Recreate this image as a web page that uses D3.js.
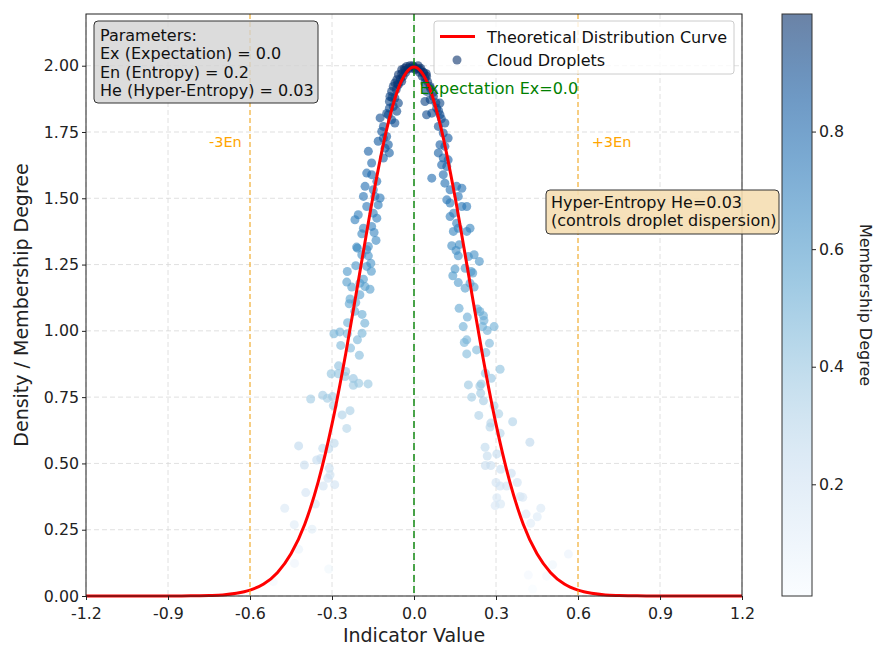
<!DOCTYPE html>
<html>
<head>
<meta charset="utf-8">
<script src="https://d3js.org/d3.v7.min.js"></script>
<style>
  body { margin: 0; background: #fff; }
  svg text { font-family: "DejaVu Sans", sans-serif; }
</style>
</head>
<body>
<div id="chart"></div>
<script>
// cloud model parameters
var Ex = 0.0, En = 0.2, He = 0.03;

var xTicks = [-1.2, -0.9, -0.6, -0.3, 0.0, 0.3, 0.6, 0.9, 1.2];
var yTicks = [0, 0.25, 0.5, 0.75, 1.0, 1.25, 1.5, 1.75, 2.0];
var cbarTicks = [0.2, 0.4, 0.6, 0.8];

// theoretical curve
var curveX = [-1.2,-1.15,-1.1,-1.05,-1.0,-0.95,-0.9,-0.85,-0.8,-0.75,-0.7,-0.65,-0.6,-0.55,-0.5,-0.45,-0.4,-0.35,-0.3,-0.25,-0.2,-0.15,-0.1,-0.05,
  0,0.05,0.1,0.15,0.2,0.25,0.3,0.35,0.4,0.45,0.5,0.55,0.6,0.65,0.7,0.75,0.8,0.85,0.9,0.95,1.0,1.05,1.1,1.15,1.2];
var curveY = [0,0,0,0,0,0,0,0,0.001,0.002,0.004,0.010,0.022,0.045,0.088,0.159,0.270,0.432,0.648,0.913,1.210,1.506,1.760,1.933,
  1.995,1.933,1.760,1.506,1.210,0.913,0.648,0.432,0.270,0.159,0.088,0.045,0.022,0.010,0.004,0.002,0.001,0,0,0,0,0,0,0,0];

// cloud droplets (x, y)
var dropX = [
  -0.191,-0.146,-0.139,-0.210,-0.207,-0.167,-0.173,-0.191,-0.167,-0.158,-0.213,-0.173,-0.244,-0.156,-0.185,-0.246,-0.198,-0.228,-0.179,-0.161,
  -0.198,-0.234,-0.237,-0.213,-0.217,-0.190,-0.243,-0.180,-0.293,-0.271,-0.244,-0.190,-0.207,-0.268,-0.232,-0.200,-0.276,-0.303,-0.277,-0.250,
  -0.252,-0.222,-0.222,-0.202,-0.168,-0.378,-0.334,-0.317,-0.298,-0.295,-0.263,-0.234,-0.246,-0.422,-0.334,-0.312,-0.292,-0.401,-0.356,-0.341,
  -0.310,-0.315,-0.307,-0.332,-0.290,-0.396,-0.361,-0.473,-0.438,-0.373,-0.422,-0.437,-0.312,-0.515,
  0.144,0.193,0.138,0.166,0.154,0.162,0.199,0.220,0.239,0.187,0.150,0.209,0.215,0.142,0.162,0.205,0.187,0.220,0.165,0.232,
  0.241,0.254,0.195,0.256,0.180,0.251,0.268,0.293,0.193,0.184,0.229,0.276,0.193,0.263,0.315,0.261,0.283,0.199,0.246,0.241,
  0.211,0.244,0.254,0.293,0.237,0.310,0.281,0.278,0.361,0.315,0.424,0.260,0.303,0.268,0.261,0.281,0.317,0.356,0.300,0.378,
  0.315,0.339,0.388,0.398,0.303,0.297,0.317,0.410,0.451,0.427,0.464,0.565,0.507,0.418,0.485,0.434,
  -0.045,-0.027,-0.015,-0.033,-0.057,-0.063,-0.070,-0.076,-0.057,-0.045,-0.082,-0.088,-0.070,-0.090,-0.057,-0.076,-0.063,-0.094,-0.082,-0.124,
  -0.112,-0.118,-0.070,-0.112,-0.100,-0.131,-0.094,-0.106,-0.090,-0.167,-0.112,-0.155,-0.173,-0.155,-0.179,-0.136,-0.149,-0.185,-0.143,-0.124,
  -0.173,-0.131,-0.204,-0.216,-0.149,-0.136,-0.185,-0.155,
  0.022,0.034,0.046,0.040,0.059,0.046,0.071,0.059,0.040,0.095,0.083,0.046,0.065,0.095,0.113,0.089,0.107,0.125,0.095,0.113,
  0.089,0.107,0.125,0.101,0.120,0.065,0.107,0.113,0.156,0.132,0.175,0.162,0.120,0.132,0.175,0.193,0.145,0.132,0.205,0.156,0.162,
  -0.05,-0.04,-0.03,-0.02,-0.01,0.0,0.01,0.02,0.03,0.04,0.05,-0.06,0.06,-0.035,0.015,-0.005,0.005,-0.045,0.025,0.035,
  0.045,-0.065,-0.08,0.07,0.08,-0.1,0.1,-0.09,0.09
];
var dropY = [
  1.366,1.371,1.341,1.316,1.312,1.318,1.306,1.287,1.283,1.255,1.246,1.243,1.224,1.225,1.195,1.184,1.180,1.165,1.167,1.157,
  1.136,1.120,1.102,1.107,1.074,1.062,1.031,1.029,0.989,0.996,0.989,0.991,0.966,0.945,0.935,0.908,0.868,0.838,0.838,0.847,
  0.828,0.820,0.795,0.802,0.800,0.743,0.757,0.746,0.752,0.718,0.683,0.699,0.632,0.566,0.557,0.555,0.576,0.494,0.513,0.519,
  0.482,0.444,0.457,0.415,0.420,0.390,0.347,0.331,0.269,0.252,0.176,0.123,0.102,0.054,
  1.375,1.375,1.321,1.325,1.303,1.283,1.280,1.287,1.262,1.236,1.233,1.224,1.218,1.208,1.182,1.180,1.161,1.165,1.085,1.082,
  1.073,1.057,1.052,1.039,1.016,1.016,1.001,1.016,0.966,0.956,0.928,0.953,0.913,0.918,0.855,0.840,0.821,0.796,0.800,0.792,
  0.750,0.765,0.736,0.717,0.681,0.687,0.652,0.637,0.657,0.614,0.580,0.561,0.536,0.528,0.492,0.492,0.478,0.463,0.428,0.428,
  0.415,0.415,0.375,0.372,0.371,0.341,0.347,0.309,0.299,0.274,0.331,0.158,0.118,0.079,0.075,0.026,
  1.985,1.997,2.000,1.982,1.966,1.947,1.935,1.922,1.928,1.941,1.903,1.884,1.878,1.865,1.859,1.846,1.828,1.815,1.796,1.803,
  1.771,1.752,1.784,1.727,1.733,1.715,1.702,1.689,1.671,1.677,1.652,1.633,1.595,1.589,1.545,1.564,1.532,1.507,1.507,1.501,
  1.469,1.475,1.438,1.419,1.444,1.425,1.387,1.394,
  1.985,1.973,1.960,1.935,1.922,1.903,1.884,1.872,1.865,1.859,1.840,1.815,1.821,1.815,1.784,1.771,1.746,1.727,1.702,1.696,
  1.671,1.652,1.645,1.626,1.620,1.576,1.589,1.557,1.545,1.532,1.538,1.507,1.494,1.482,1.469,1.469,1.444,1.431,1.387,1.406,1.387,
  1.950,1.960,1.975,1.990,1.990,1.995,1.990,1.975,1.960,1.955,1.940,1.930,1.915,1.990,2.000,2.000,1.985,1.970,1.990,1.975,
  1.970,1.910,1.880,1.900,1.860,1.820,1.800,1.840,1.830
];

var W = 877, H = 648;
var pL = 86, pR = 742, pT = 14, pB = 596;

var svg = d3.select("#chart").append("svg").attr("width", W).attr("height", H);
svg.append("rect").attr("width", W).attr("height", H).attr("fill", "#fff");

var x = d3.scaleLinear().domain([-1.2, 1.2]).range([pL, pR]);
var y = d3.scaleLinear().domain([0, 2.195]).range([pB, pT]);
var memb = d3.scaleLinear().domain([0, 1.995]).range([0, 1]);
var color = d3.scaleSequential(d3.interpolateBlues).domain([0.01, 1.0]);

// grid
svg.selectAll("line.gx").data(xTicks).enter().append("line")
  .attr("x1", d => x(d)).attr("x2", d => x(d)).attr("y1", pT).attr("y2", pB)
  .attr("stroke", "#d8d8d8").attr("stroke-width", 0.8).attr("stroke-dasharray", "5,3");
svg.selectAll("line.gy").data(yTicks).enter().append("line")
  .attr("y1", d => y(d)).attr("y2", d => y(d)).attr("x1", pL).attr("x2", pR)
  .attr("stroke", "#d8d8d8").attr("stroke-width", 0.8).attr("stroke-dasharray", "5,3");

// droplets
var drops = dropX.map((v, i) => ({x: v, y: dropY[i]}));
svg.append("g").selectAll("circle").data(drops).enter().append("circle")
  .attr("cx", d => x(d.x)).attr("cy", d => y(d.y)).attr("r", 4.5)
  .attr("fill", d => color(memb(d.y))).attr("fill-opacity", 0.6);

// theoretical curve
var line = d3.line().x(d => x(d[0])).y(d => y(d[1])).curve(d3.curveMonotoneX);
svg.append("path").datum(curveX.map((v, i) => [v, curveY[i]]))
  .attr("d", line).attr("fill", "none").attr("stroke", "red").attr("stroke-width", 3);

// reference lines
svg.append("line").attr("x1", x(Ex)).attr("x2", x(Ex)).attr("y1", pT).attr("y2", pB)
  .attr("stroke", "green").attr("stroke-opacity", 0.7).attr("stroke-width", 2).attr("stroke-dasharray", "7,4");
[-3 * En, 3 * En].forEach(function(v) {
  svg.append("line").attr("x1", x(v)).attr("x2", x(v)).attr("y1", pT).attr("y2", pB)
    .attr("stroke", "orange").attr("stroke-opacity", 0.7).attr("stroke-width", 1.3).attr("stroke-dasharray", "5,3");
});

svg.append("text").attr("x", x(Ex + 0.02)).attr("y", 94).attr("fill", "green")
  .style("font-size", "16px").text("Expectation Ex=0.0");
svg.append("text").attr("x", x(-3 * En - 0.15)).attr("y", 147).attr("fill", "orange")
  .style("font-size", "14.5px").text("-3En");
svg.append("text").attr("x", x(3 * En + 0.05)).attr("y", 147).attr("fill", "orange")
  .style("font-size", "14.5px").text("+3En");

// frame
svg.append("rect").attr("x", pL).attr("y", pT).attr("width", pR - pL).attr("height", pB - pT)
  .attr("fill", "none").attr("stroke", "#222").attr("stroke-width", 1);

// axes
var xAxis = d3.axisBottom(x).tickValues(xTicks).tickSize(4).tickSizeOuter(0).tickFormat(d => d.toFixed(1));
var gx = svg.append("g").attr("transform", "translate(0," + pB + ")").call(xAxis);
var yAxis = d3.axisLeft(y).tickValues(yTicks).tickSize(4).tickSizeOuter(0).tickFormat(d => d.toFixed(2));
var gy = svg.append("g").attr("transform", "translate(" + pL + ",0)").call(yAxis);
[gx, gy].forEach(function(g) {
  g.select(".domain").remove();
  g.selectAll(".tick line").attr("stroke", "#222");
  g.selectAll(".tick text").attr("fill", "#222").style("font-size", "15.8px").style("font-family", "DejaVu Sans");
});
gx.selectAll(".tick text").attr("dy", "1.0em");

svg.append("text").attr("x", (pL + pR) / 2).attr("y", 642).attr("text-anchor", "middle")
  .style("font-size", "19px").attr("fill", "#222").text("Indicator Value");
svg.append("text").attr("transform", "translate(28," + (pT + pB) / 2 + ") rotate(-90)")
  .attr("text-anchor", "middle").style("font-size", "19px").attr("fill", "#222").text("Density / Membership Degree");

// parameters box
svg.append("rect").attr("x", 94).attr("y", 21).attr("width", 224).attr("height", 82).attr("rx", 4)
  .attr("fill", "#d3d3d3").attr("fill-opacity", 0.8).attr("stroke", "#333").attr("stroke-width", 1);
var params = ["Parameters:", "Ex (Expectation) = 0.0", "En (Entropy) = 0.2", "He (Hyper-Entropy) = 0.03"];
svg.selectAll("text.param").data(params).enter().append("text")
  .attr("x", 100).attr("y", (d, i) => 40.5 + i * 18.5).style("font-size", "16px").attr("fill", "#111").text(d => d);

// hyper-entropy box
svg.append("rect").attr("x", 546).attr("y", 190).attr("width", 233).attr("height", 44).attr("rx", 4)
  .attr("fill", "#f5deb3").attr("fill-opacity", 0.9).attr("stroke", "#333").attr("stroke-width", 1);
svg.append("text").attr("x", 551).attr("y", 207.5).style("font-size", "16px").attr("fill", "#111").text("Hyper-Entropy He=0.03");
svg.append("text").attr("x", 551).attr("y", 225.5).style("font-size", "16px").attr("fill", "#111").text("(controls droplet dispersion)");

// legend
svg.append("rect").attr("x", 434).attr("y", 21).attr("width", 300).attr("height", 53).attr("rx", 3)
  .attr("fill", "#fff").attr("fill-opacity", 0.8).attr("stroke", "#ccc").attr("stroke-width", 1);
svg.append("line").attr("x1", 440).attr("x2", 475).attr("y1", 36.5).attr("y2", 36.5)
  .attr("stroke", "red").attr("stroke-width", 3);
svg.append("circle").attr("cx", 457).attr("cy", 60).attr("r", 4.5).attr("fill", color(1)).attr("fill-opacity", 0.6);
svg.append("text").attr("x", 487).attr("y", 42.5).style("font-size", "16px").attr("fill", "#111").text("Theoretical Distribution Curve");
svg.append("text").attr("x", 487).attr("y", 66).style("font-size", "16px").attr("fill", "#111").text("Cloud Droplets");

// colorbar
var cbL = 782, cbW = 30;
var cScale = d3.scaleLinear().domain([0.01, 1.0]).range([pB, pT]);
var grad = svg.append("defs").append("linearGradient").attr("id", "cbar")
  .attr("x1", 0).attr("y1", 1).attr("x2", 0).attr("y2", 0);
d3.range(0, 1.0001, 0.05).forEach(function(t) {
  grad.append("stop").attr("offset", t).attr("stop-color", color(0.01 + t * 0.99)).attr("stop-opacity", 0.6);
});
svg.append("rect").attr("x", cbL).attr("y", pT).attr("width", cbW).attr("height", pB - pT)
  .attr("fill", "url(#cbar)").attr("stroke", "#333").attr("stroke-width", 1);
var cAxis = d3.axisRight(cScale).tickValues(cbarTicks).tickSize(4).tickFormat(d => d.toFixed(1));
var gc = svg.append("g").attr("transform", "translate(" + (cbL + cbW) + ",0)").call(cAxis);
gc.select(".domain").remove();
gc.selectAll(".tick line").attr("stroke", "#222");
gc.selectAll(".tick text").attr("fill", "#222").style("font-size", "15.8px").style("font-family", "DejaVu Sans");
svg.append("text").attr("transform", "translate(860," + (pT + pB) / 2 + ") rotate(90)")
  .attr("text-anchor", "middle").style("font-size", "16px").attr("fill", "#222").text("Membership Degree");
</script>
</body>
</html>
